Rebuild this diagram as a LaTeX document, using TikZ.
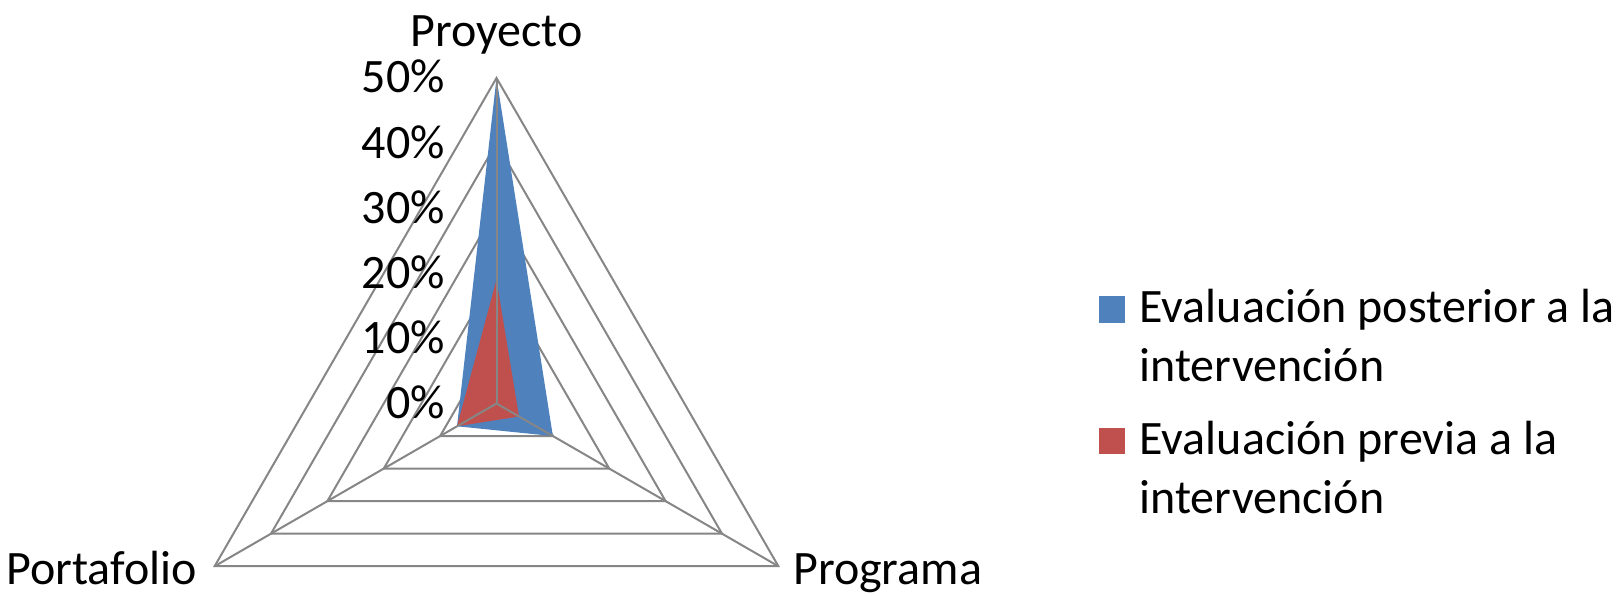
\documentclass[tikz,border=0pt]{standalone}
\usepackage{fontspec}
\setmainfont{Carlito}
\usepackage{xcolor}
\definecolor{azul}{HTML}{4F81BD}
\definecolor{rojo}{HTML}{C0504D}
\definecolor{rejilla}{HTML}{868686}

\begin{document}
\begin{tikzpicture}[x=1pt,y=1pt,
    font=\fontsize{48}{59}\selectfont,
    ring/.style={draw=rejilla,line width=2pt,line join=miter},
    spoke/.style={draw=rejilla,line width=2pt},
    eje/.style={anchor=base east,inner sep=0pt},
    categoria/.style={inner sep=0pt},
    cuadro/.style={minimum size=26.5pt,inner sep=0pt},
    leyenda/.style={anchor=base west,align=left,inner sep=0pt}]
    \useasboundingbox (0,0) rectangle (1616,596);
    \coordinate (centro) at (496.5,192.5);
    \begin{scope}[shift={(centro)}]
        % rings every 10%
        \foreach \r in {65.1,130.2,195.3,260.4,325.5}
            \draw[ring] (90:\r) -- (-30:\r) -- (210:\r) -- cycle;
        % series
        \fill[azul] (90:325.5) -- (-30:65.1) -- (210:45.6) -- cycle;
        \fill[rojo] (90:123.7) -- (-30:26) -- (210:45.6) -- cycle;
        % axes
        \foreach \a/\n in {90/pProy,-30/pProg,210/pPort} {
            \coordinate (\n) at (\a:325.5);
            \draw[spoke] (0,0) -- (\n);
        }
    \end{scope}
    % axis labels
    \foreach \k/\t in {0/0,1/10,2/20,3/30,4/40,5/50}
        \node[eje] (eje\k) at (445,177.5+\k*65.1) {\t\%};
    \node[categoria,anchor=base] (proyecto) at (496.5,549.3) {Proyecto};
    \node[categoria,anchor=base east] (portafolio) at (197,11) {Portafolio};
    \node[categoria,anchor=base west] (programa) at (793,11) {Programa};
    % legend (base = last line)
    \node[cuadro,fill=azul] (cuadPost) at (1112,286.7) {};
    \node[leyenda] (leyPost) at ([xshift=14pt,yshift=-59pt]cuadPost.south east) {Evaluación posterior a la\\intervención};
    \node[cuadro,fill=rojo] (cuadPrev) at (1112,155) {};
    \node[leyenda] (leyPrev) at ([xshift=14pt,yshift=-59pt]cuadPrev.south east) {Evaluación previa a la\\intervención};
\end{tikzpicture}
\end{document}
